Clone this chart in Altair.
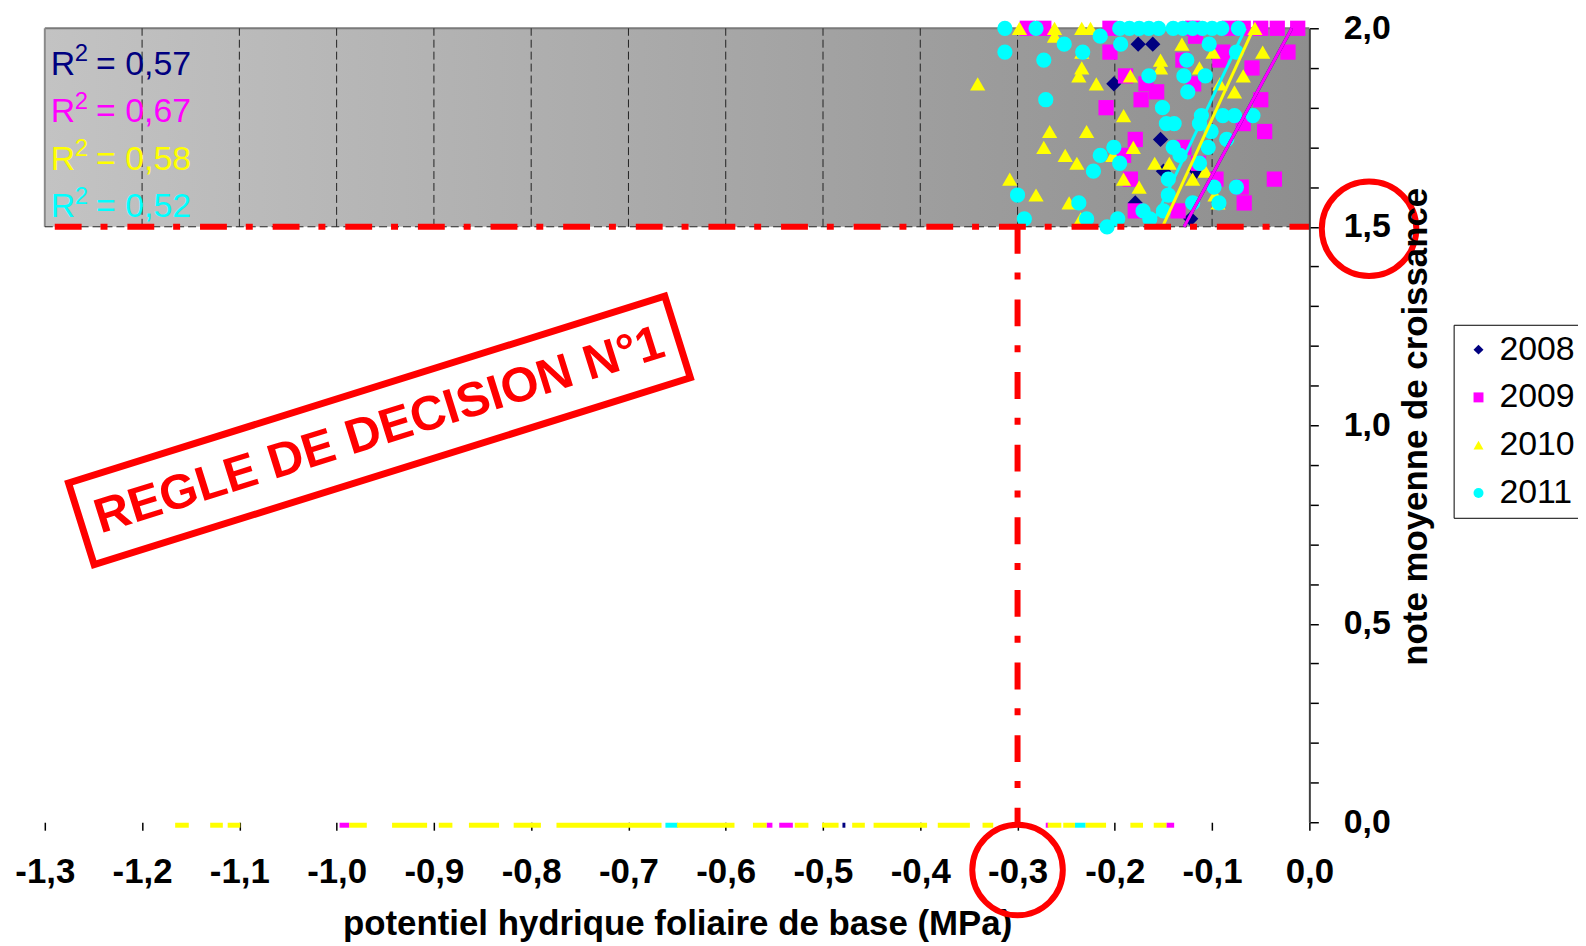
import altair as alt
import pandas as pd

FONT = "Liberation Sans"

# ---------------- data ----------------
years = ["2008", "2009", "2010", "2011"]
year_colors = ["#000080", "#FF00FF", "#FFFF00", "#00FFFF"]
year_shapes = ["diamond", "square", "triangle-up", "circle"]
r2_values = [0.57, 0.67, 0.58, 0.52]

x_2008 = [-0.176, -0.161, -0.201, -0.153, -0.150, -0.116, -0.179, -0.122]
y_2008 = [1.96, 1.96, 1.86, 1.72, 1.64, 1.64, 1.56, 1.52]

x_2009 = [-0.290, -0.273, -0.205, -0.120, -0.082, -0.068, -0.050, -0.033, -0.012,
          -0.117, -0.205, -0.130, -0.089, -0.092, -0.022, -0.059, -0.189, -0.168,
          -0.157, -0.119, -0.173, -0.209, -0.050, -0.068, -0.046, -0.179, -0.129,
          -0.191, -0.114, -0.184, -0.096, -0.036, -0.070, -0.067, -0.135, -0.179]
y_2009 = [2.00, 2.00, 2.00, 2.00, 2.00, 2.00, 2.00, 2.00, 2.00,
          1.98, 1.94, 1.92, 1.94, 1.92, 1.94, 1.90, 1.88, 1.86,
          1.84, 1.86, 1.82, 1.80, 1.82, 1.76, 1.74, 1.72, 1.70,
          1.68, 1.66, 1.62, 1.62, 1.62, 1.60, 1.56, 1.54, 1.54]

x_2010 = [-0.341, -0.298, -0.262, -0.234, -0.225, -0.262, -0.234, -0.234, -0.237,
          -0.219, -0.191, -0.184, -0.153, -0.153, -0.131, -0.113, -0.099, -0.092,
          -0.077, -0.068, -0.056, -0.048, -0.267, -0.229, -0.273, -0.251, -0.239,
          -0.181, -0.202, -0.159, -0.144, -0.107, -0.120, -0.191, -0.175, -0.308,
          -0.281, -0.247, -0.097, -0.235, -0.094]
y_2010 = [1.86, 2.00, 2.00, 2.00, 2.00, 1.98, 1.94, 1.90, 1.88,
          1.86, 1.78, 1.88, 1.92, 1.90, 1.96, 1.90, 1.94, 1.86,
          1.84, 1.88, 2.00, 1.94, 1.74, 1.74, 1.70, 1.68, 1.66,
          1.70, 1.68, 1.66, 1.66, 1.64, 1.62, 1.62, 1.60, 1.62,
          1.58, 1.56, 1.58, 1.52, 1.56]

x_2011 = [-0.313, -0.281, -0.313, -0.273, -0.252, -0.233, -0.215, -0.271, -0.194,
          -0.195, -0.185, -0.175, -0.165, -0.155, -0.140, -0.130, -0.120, -0.110,
          -0.100, -0.090, -0.073, -0.126, -0.165, -0.129, -0.107, -0.125, -0.103,
          -0.075, -0.151, -0.147, -0.139, -0.111, -0.113, -0.089, -0.077, -0.058,
          -0.101, -0.085, -0.140, -0.104, -0.133, -0.201, -0.215, -0.195, -0.222,
          -0.113, -0.145, -0.145, -0.098, -0.075, -0.120, -0.093, -0.237, -0.171,
          -0.164, -0.150, -0.293, -0.229, -0.197, -0.300, -0.208]
y_2011 = [2.00, 2.00, 1.94, 1.92, 1.96, 1.94, 1.98, 1.82, 1.96,
          2.00, 2.00, 2.00, 2.00, 2.00, 2.00, 2.00, 2.00, 2.00,
          2.00, 2.00, 2.00, 1.92, 1.88, 1.88, 1.88, 1.84, 1.96,
          1.94, 1.80, 1.76, 1.76, 1.78, 1.76, 1.78, 1.78, 1.78,
          1.74, 1.72, 1.70, 1.70, 1.68, 1.70, 1.68, 1.66, 1.64,
          1.66, 1.62, 1.58, 1.60, 1.60, 1.56, 1.56, 1.56, 1.54,
          1.52, 1.54, 1.52, 1.52, 1.52, 1.58, 1.50]

# trend lines: x where each line crosses y=1.5 and y=2.0
trend_years = ["2008", "2011", "2010", "2009"]
trend_x_at_15 = [-0.1288, -0.1629, -0.1510, -0.1288]
trend_x_at_20 = [-0.0181, -0.0657, -0.0573, -0.0181]

# points lying at y = 0 (seen as thin strips along the bottom)
strip_year = (["2009"] * 5 + ["2011"] * 2 + ["2008"] + ["2010"] * 22)
strip_x_start = [-0.997, -0.558, -0.545, -0.271, -0.147,
                 -0.662, -0.241,
                 -0.480,
                 -1.166, -1.130, -1.112, -0.987, -0.943, -0.895, -0.864, -0.818,
                 -0.774, -0.650, -0.572, -0.529, -0.501, -0.470, -0.448, -0.382,
                 -0.336, -0.269, -0.253, -0.230, -0.184, -0.160]
strip_x_end = [-0.987, -0.552, -0.531, -0.268, -0.139,
               -0.649, -0.230,
               -0.477,
               -1.152, -1.117, -1.099, -0.969, -0.907, -0.881, -0.833, -0.790,
               -0.666, -0.591, -0.558, -0.515, -0.484, -0.457, -0.393, -0.349,
               -0.325, -0.255, -0.241, -0.209, -0.171, -0.147]

x_ticks = [-1.3, -1.2, -1.1, -1.0, -0.9, -0.8, -0.7, -0.6, -0.5, -0.4, -0.3, -0.2, -0.1, 0.0]
y_ticks = [0.0, 0.1, 0.2, 0.3, 0.4, 0.5, 0.6, 0.7, 0.8, 0.9, 1.0,
           1.1, 1.2, 1.3, 1.4, 1.5, 1.6, 1.7, 1.8, 1.9, 2.0]
y_label_values = [0.0, 0.5, 1.0, 1.5, 2.0]
y_labels = ["0,0", "0,5", "1,0", "1,5", "2,0"]
grid_x = [-1.2, -1.1, -1.0, -0.9, -0.8, -0.7, -0.6, -0.5, -0.4, -0.3, -0.2, -0.1]

zone_x = [-1.3, 0.0]
zone_y = [1.5, 2.0]
threshold_x = -0.3
threshold_y = 1.5
decision_center = (-0.956, 0.987)
decision_text = "REGLE DE DECISION N°1"

# ---------------- scales / axes ----------------
xscale = alt.Scale(domain=[-1.3, 0.0], nice=False, zero=False)
yscale = alt.Scale(domain=[0.0, 2.0], nice=False, zero=False)

x_label_expr = "replace(replace(format(datum.value, '.1f'), '.', ','), '\u2212', '-')"
y_label_expr = " : ".join(
    f"abs(datum.value - ({v})) < 0.0001 ? '{lab}'" for v, lab in zip(y_label_values, y_labels)
) + " : ''"

xaxis = alt.Axis(
    values=x_ticks, labelExpr=x_label_expr, domain=False, grid=False,
    tickSize=8, tickColor="black", tickWidth=1.5,
    labelFont=FONT, labelFontSize=35, labelFontWeight="bold", labelColor="black",
    labelPadding=25, labelFlush=False, labelOverlap=False, labelBound=False,
    title="potentiel hydrique foliaire de base (MPa)", titleFont=FONT, titleFontSize=35,
    titleFontWeight="bold", titleColor="black", titleY=113, titleBaseline="alphabetic",
)
yaxis = alt.Axis(
    orient="right", values=y_ticks, labelExpr=y_label_expr, domain=True,
    domainColor="#404040", domainWidth=2, grid=False,
    tickSize=9, tickColor="black", tickWidth=1.5,
    labelFont=FONT, labelFontSize=34, labelFontWeight="bold", labelColor="black",
    labelPadding=25, labelFlush=False, labelOverlap=False, labelBound=False,
    title="note moyenne de croissance", titleFont=FONT, titleFontSize=35,
    titleFontWeight="bold", titleColor="black", titleAngle=270, titleX=107, titleY=400,
    titleAlign="center", titleBaseline="middle", zindex=1,
)


def X(f="x"):
    return alt.X(f"{f}:Q", scale=xscale, axis=xaxis)


def Y(f="y"):
    return alt.Y(f"{f}:Q", scale=yscale, axis=yaxis)


layers = []

# gray zone with gradient
zone_df = pd.DataFrame({"x": [zone_x[0]], "x2": [zone_x[1]], "y": [zone_y[0]], "y2": [zone_y[1]]})
gradient = {
    "gradient": "linear", "x1": 0, "y1": 0, "x2": 1, "y2": 0,
    "stops": [{"offset": 0, "color": "#c3c3c3"}, {"offset": 1, "color": "#8e8e8e"}],
}
layers.append(alt.Chart(zone_df).mark_rect(fill=gradient, strokeWidth=0).encode(
    x=X(), x2="x2", y=Y(), y2="y2"))

# zone borders
top_df = pd.DataFrame({"x": [zone_x[0]], "x2": [zone_x[1]], "y": [zone_y[1]]})
layers.append(alt.Chart(top_df).mark_rule(color="#7a7a7a", strokeWidth=2).encode(
    x=X(), x2="x2", y=Y()))
left_df = pd.DataFrame({"x": [zone_x[0]], "y": [zone_y[0]], "y2": [zone_y[1]]})
layers.append(alt.Chart(left_df).mark_rule(color="#8a8a8a", strokeWidth=2).encode(
    x=X(), y=Y(), y2="y2"))
bottom_df = pd.DataFrame({"x": [zone_x[0]], "x2": [zone_x[1]], "y": [zone_y[0]]})
layers.append(alt.Chart(bottom_df).mark_rule(color="#222222", strokeWidth=1, strokeDash=[8, 4]).encode(
    x=X(), x2="x2", y=Y()))

# dashed gridlines in the zone
grid_df = pd.DataFrame({"x": grid_x, "y": [zone_y[0]] * len(grid_x), "y2": [zone_y[1]] * len(grid_x)})
layers.append(alt.Chart(grid_df).mark_rule(color="#222222", strokeWidth=1, strokeDash=[8, 4]).encode(
    x=X(), y=Y(), y2="y2"))

# scatter points
rows = []
for yr, xs, ys in [("2008", x_2008, y_2008), ("2009", x_2009, y_2009),
                   ("2010", x_2010, y_2010), ("2011", x_2011, y_2011)]:
    for a, b in zip(xs, ys):
        rows.append({"year": yr, "x": a, "y": b})
pts_df = pd.DataFrame(rows)
pts_df["idx"] = range(len(pts_df))

leg = alt.Legend(
    title=None, orient="none", legendX=1416, legendY=298, direction="vertical",
    labelFont=FONT, labelFontSize=34, labelColor="black",
    symbolSize=100, symbolStrokeWidth=0, symbolOpacity=1,
    rowPadding=14, padding=8, strokeColor="black", fillColor="white",
    symbolOffset=0, labelOffset=4, cornerRadius=0,
)
layers.append(alt.Chart(pts_df).mark_point(filled=True, size=235, opacity=1, strokeWidth=0).encode(
    x=X(), y=Y(),
    color=alt.Color("year:N", scale=alt.Scale(domain=years, range=year_colors), legend=leg),
    shape=alt.Shape("year:N", scale=alt.Scale(domain=years, range=year_shapes), legend=leg),
    order=alt.Order("idx:Q"),
))

# trend lines
cmap = dict(zip(years, year_colors))
trend_df = pd.DataFrame({
    "x": trend_x_at_15, "x2": trend_x_at_20,
    "y": [zone_y[0]] * 4, "y2": [zone_y[1]] * 4,
    "color": [cmap[t] for t in trend_years],
})
layers.append(alt.Chart(trend_df).mark_rule(strokeWidth=3).encode(
    x=X(), x2="x2", y=Y(), y2="y2", color=alt.Color("color:N", scale=None)))

# red decision lines
h_df = pd.DataFrame({"x": [zone_x[0]], "x2": [zone_x[1]], "y": [threshold_y]})
layers.append(alt.Chart(h_df).mark_rule(color="#FF0000", strokeWidth=6,
                                        strokeDash=[27, 19, 7, 20], strokeDashOffset=63).encode(
    x=X(), x2="x2", y=Y()))
v_df = pd.DataFrame({"x": [threshold_x], "y": [threshold_y], "y2": [-0.01]})
layers.append(alt.Chart(v_df).mark_rule(color="#FF0000", strokeWidth=6,
                                        strokeDash=[27, 19, 7, 20]).encode(
    x=X(), y=Y(), y2="y2"))

# points at y = 0 (strips)
strip_df = pd.DataFrame({
    "x": strip_x_start, "x2": strip_x_end, "y": [0.0] * len(strip_x_start),
    "color": [cmap[s] for s in strip_year],
})
layers.append(alt.Chart(strip_df).mark_rule(strokeWidth=5, yOffset=3).encode(
    x=X(), x2="x2", y=Y(), color=alt.Color("color:N", scale=None)))

# red circles around the two thresholds
c1_df = pd.DataFrame({"x": [zone_x[1]], "y": [threshold_y]})
layers.append(alt.Chart(c1_df).mark_point(shape="circle", filled=False, color="#FF0000",
                                          strokeWidth=6, size=9025, opacity=1,
                                          xOffset=60, yOffset=2).encode(x=X(), y=Y()))
c2_df = pd.DataFrame({"x": [threshold_x], "y": [0.0]})
layers.append(alt.Chart(c2_df).mark_point(shape="circle", filled=False, color="#FF0000",
                                          strokeWidth=6, size=8281, opacity=1,
                                          yOffset=48).encode(x=X(), y=Y()))

# decision box and text
box_df = pd.DataFrame({"x": [decision_center[0]], "y": [decision_center[1]]})
box_path = "M -1 -0.1370 L 1 -0.1370 L 1 0.1370 L -1 0.1370 Z"
layers.append(alt.Chart(box_df).mark_point(shape=box_path, filled=False, color="#FF0000",
                                           strokeWidth=7, size=628 * 628, angle=342.6,
                                           opacity=1).encode(x=X(), y=Y()))
layers.append(alt.Chart(box_df).mark_text(text=decision_text, angle=342.6, font=FONT,
                                          fontSize=49, fontWeight="bold", color="#FF0000",
                                          align="center", baseline="middle").encode(x=X(), y=Y()))

# R² labels (R, superscript 2, "= value")
r2_df = pd.DataFrame({"x": [zone_x[0]], "y": [zone_y[1]]})
for i, (v, c) in enumerate(zip(r2_values, year_colors)):
    base_dy = 46.5 + 47.8 * i
    val = "= " + f"{v:.2f}".replace(".", ",")
    layers.append(alt.Chart(r2_df).mark_text(text="R", font=FONT, fontSize=34, color=c,
                                             align="left", baseline="alphabetic",
                                             dx=6, dy=base_dy).encode(x=X(), y=Y()))
    layers.append(alt.Chart(r2_df).mark_text(text="2", font=FONT, fontSize=24, color=c,
                                             align="left", baseline="alphabetic",
                                             dx=30, dy=base_dy - 13.5).encode(x=X(), y=Y()))
    layers.append(alt.Chart(r2_df).mark_text(text=val, font=FONT, fontSize=34, color=c,
                                             align="left", baseline="alphabetic",
                                             dx=51.5, dy=base_dy).encode(x=X(), y=Y()))

chart = alt.layer(*layers).properties(
    width=1271, height=798,
    autosize=alt.AutoSizeParams(type="none"),
    padding={"left": 37, "top": 18, "right": 270, "bottom": 120},
).configure_view(stroke="transparent")

chart.save("out.html", embed_options={"renderer": "svg", "actions": False})
